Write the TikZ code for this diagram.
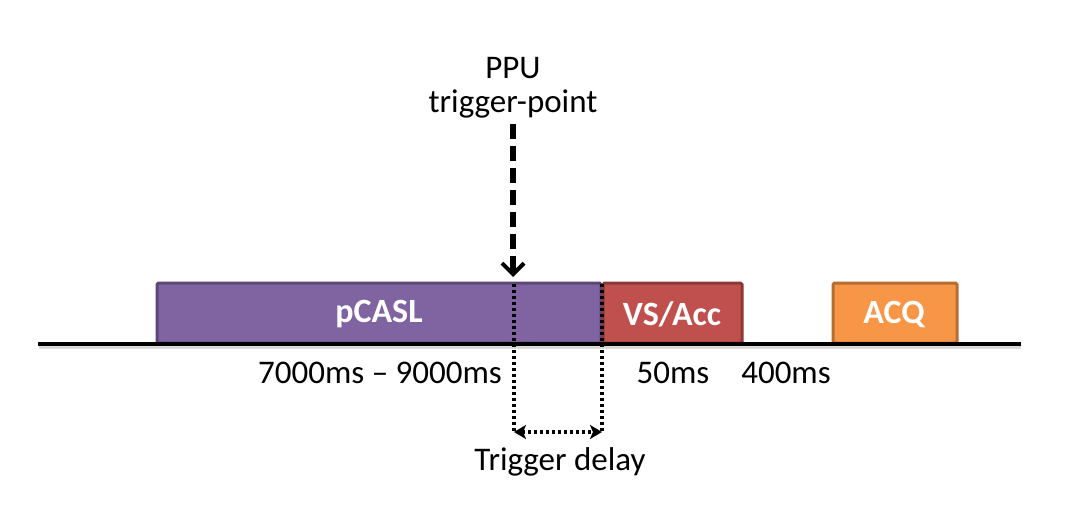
\documentclass[tikz,border=0pt]{standalone}
\usepackage{fontspec}
\setmainfont{Carlito}
\usetikzlibrary{arrows.meta}
\definecolor{purp}{HTML}{8064A2}
\definecolor{purpd}{HTML}{5C4776}
\definecolor{redb}{HTML}{C0504D}
\definecolor{redd}{HTML}{8C3836}
\definecolor{orab}{HTML}{F79646}
\definecolor{orad}{HTML}{B66D31}
\tikzset{
  blk/.style={draw=#1, line width=3pt, rounded corners=1.5pt, inner sep=0pt, anchor=north west},
  lbl/.style={font=\fontsize{34}{40}\selectfont\bfseries, text=white},
  txt/.style={font=\fontsize{33}{40}\selectfont, inner sep=0pt},
  dotl/.style={line width=3.2pt, dash pattern=on 3pt off 3pt},
}
\begin{document}
\begin{tikzpicture}[x=1pt,y=-1pt]
\useasboundingbox (0,0) rectangle (1067,524);
% boxes
\draw[blk=purpd, fill=purp] (157,283) rectangle (601,343);
\draw[blk=redd, fill=redb] (603,283) rectangle (742,343);
\draw[blk=orad, fill=orab] (833,283) rectangle (957,343);
\node[lbl] (pcasl) at (379,314) {pCASL};
\node[lbl] (vs) at (672,314) {VS/Acc};
\node[lbl] (acq) at (894,314) {ACQ};
% baseline
\coordinate (b0) at (38,344);
\coordinate (b1) at (1021,344);
\draw[black!15, line width=3pt] (39,347.5) -- (1021,347.5);
\draw[line width=3.5pt] (b0) -- (b1);
% top labels
\node[txt] (ppu) at (513,68) {PPU};
\node[txt] (tp) at (513,104) {trigger-point};
\coordinate (ta) at (513,124);
\coordinate (tb) at (513,277);
\draw[line width=5.5pt, dash pattern=on 15pt off 7pt, -{Straight Barb[length=11pt,width=22pt,line width=4pt]}] (ta) -- (tb);
% dotted lines
\coordinate (d1t) at (514,284);
\coordinate (d1b) at (514,432);
\coordinate (d2t) at (602,284);
\coordinate (d2b) at (602,432);
\draw[dotl] (d1t) -- (d1b);
\draw[dotl] (d2t) -- (d2b);
\draw[dotl, {Stealth[length=12pt,width=14pt,inset=3pt]}-{Stealth[length=12pt,width=14pt,inset=3pt]}] (d1b) -- (d2b);
% bottom labels
\node[txt] (t1) at (380,373) {7000ms – 9000ms};
\node[txt] (t2) at (673,373) {50ms};
\node[txt] (t3) at (786,373) {400ms};
\node[txt] (td) at (560,462) {Trigger delay};
\end{tikzpicture}
\end{document}
